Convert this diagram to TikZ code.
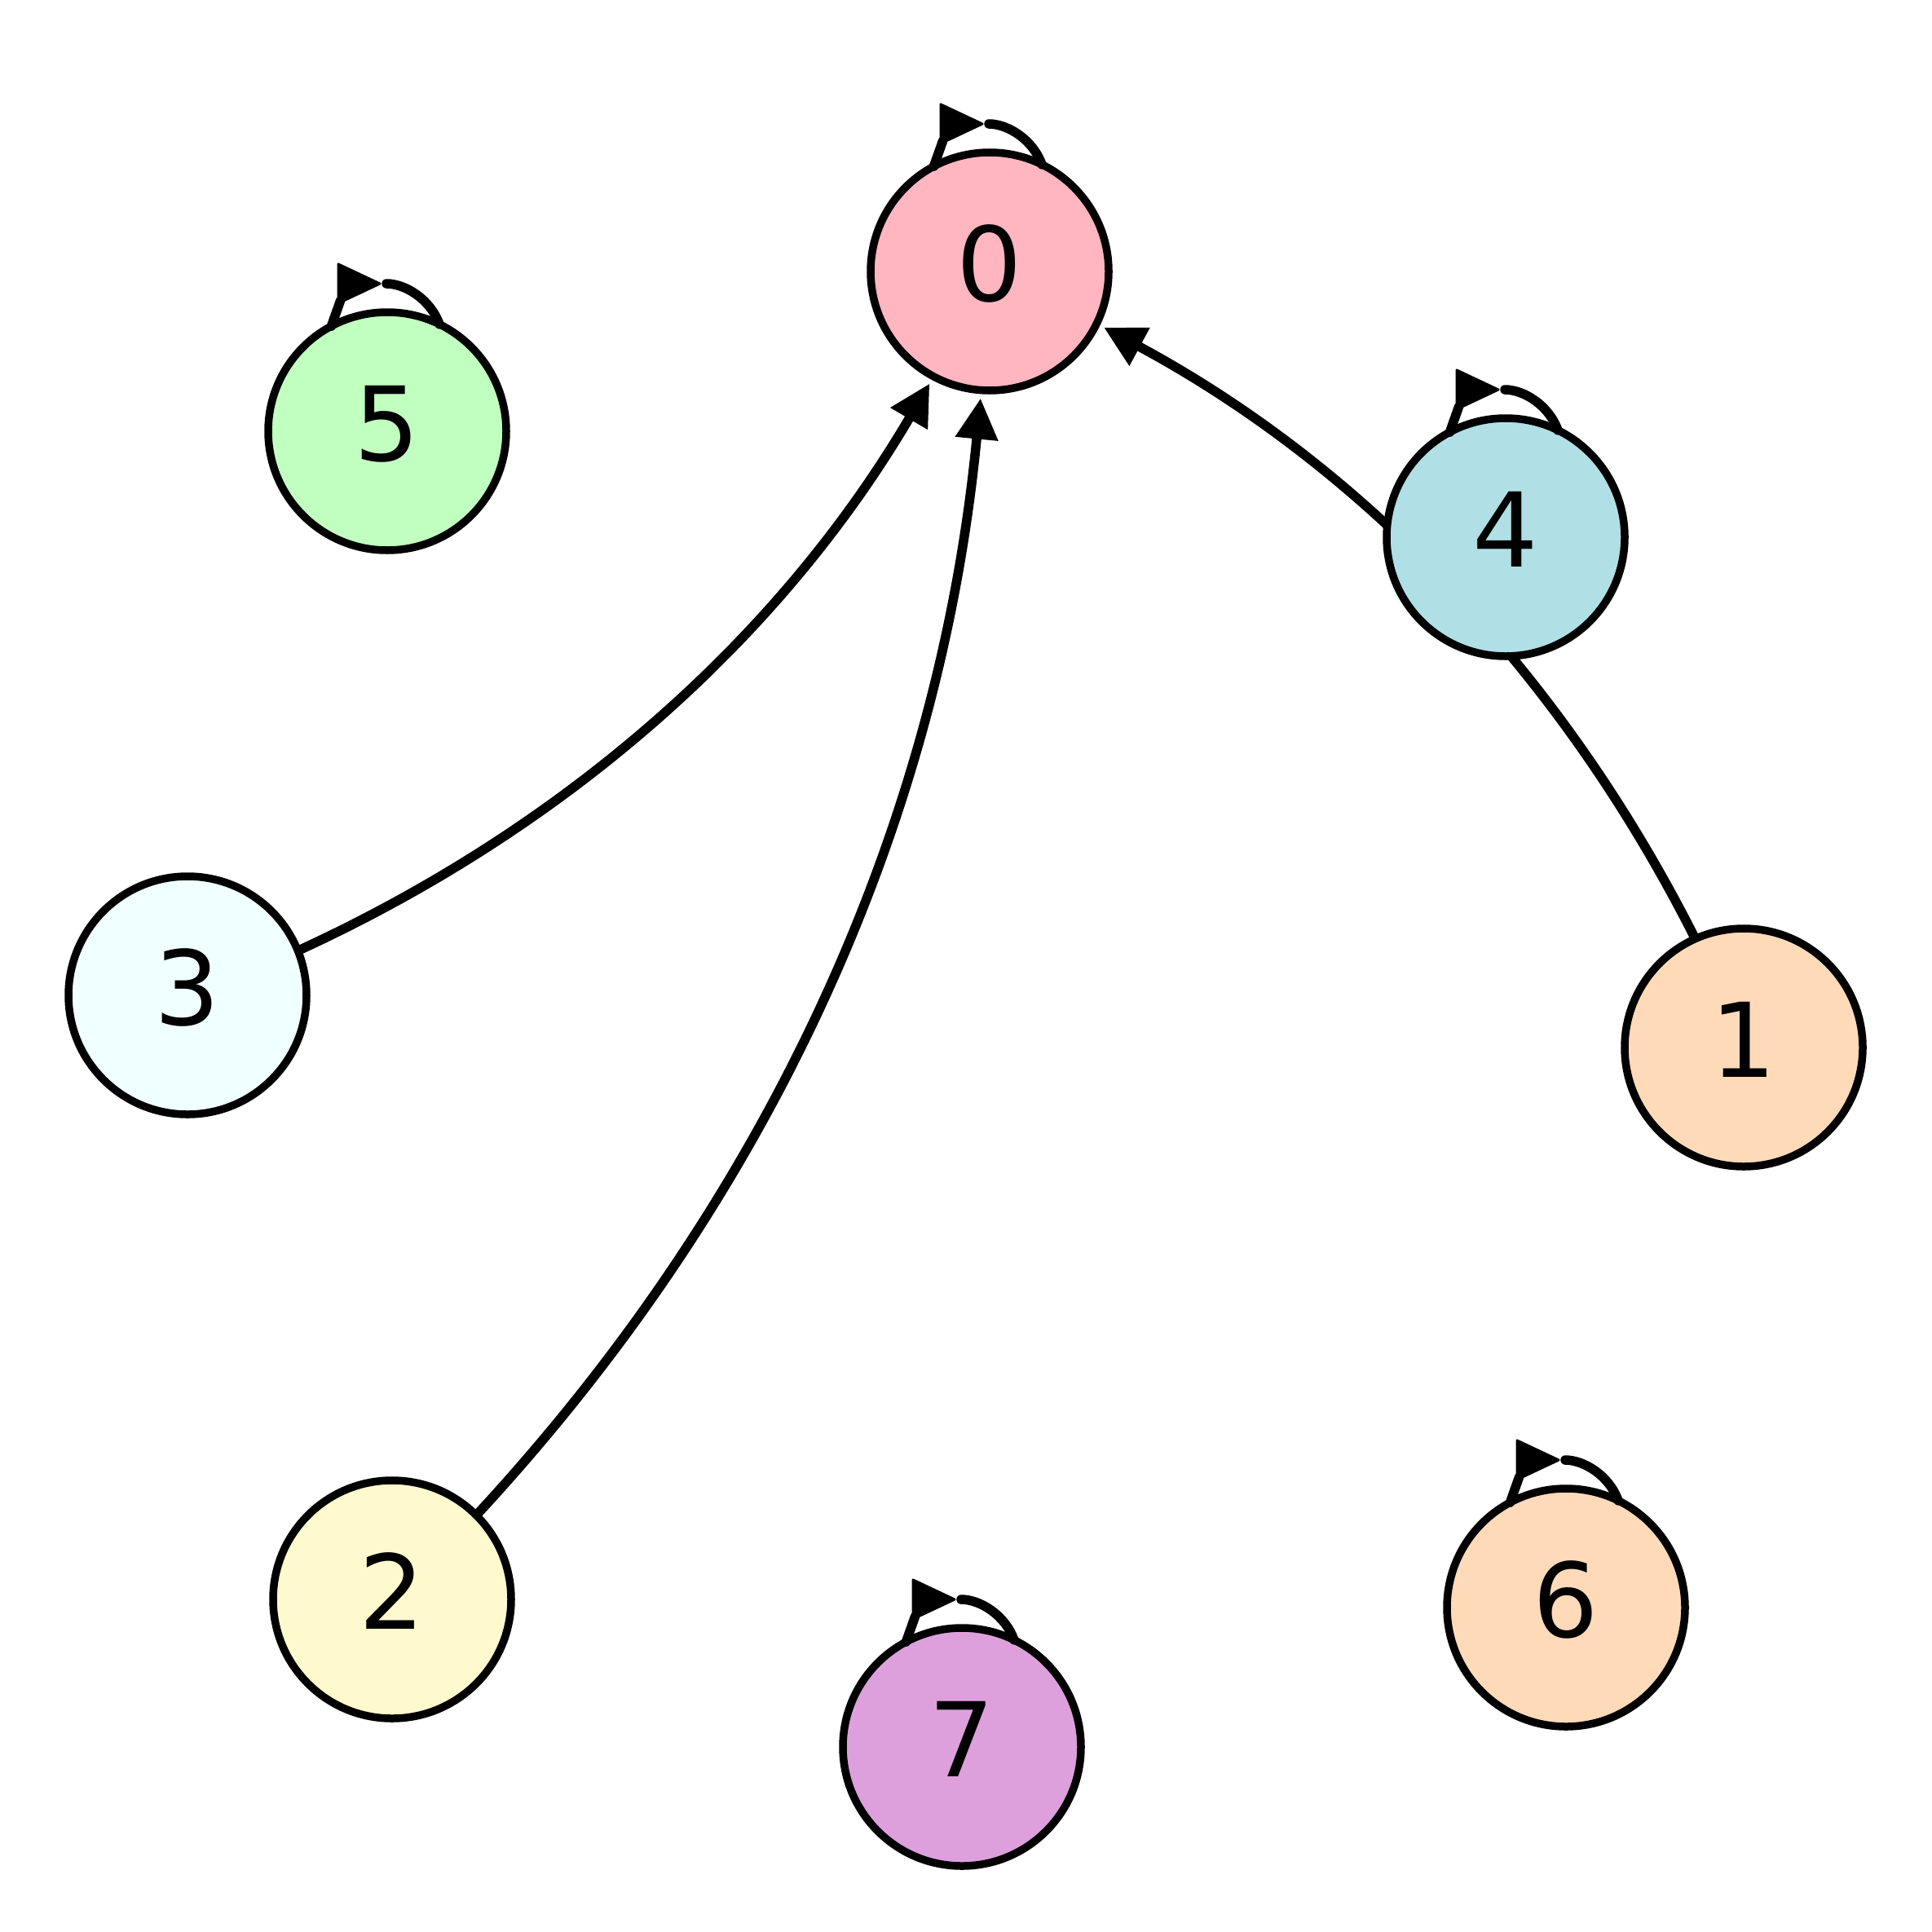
\documentclass[tikz,border=0pt]{standalone}
\usepackage{fontspec}
\setmainfont{DejaVu Sans}
\usetikzlibrary{arrows.meta,calc}
\pgfdeclarelayer{bgfill}
\pgfdeclarelayer{edges}
\pgfsetlayers{bgfill,edges,main}
\definecolor{c0}{HTML}{FFB6C1}
\definecolor{c5}{HTML}{C1FFC1}
\definecolor{c4}{HTML}{B0E0E6}
\definecolor{c3}{HTML}{F0FFFF}
\definecolor{c1}{HTML}{FFDAB9}
\definecolor{c2}{HTML}{FFFACD}
\definecolor{c7}{HTML}{DDA0DD}
\definecolor{c6}{HTML}{FFDAB9}
\newcommand\selfloop[1]{%
  \draw[edge] (#1.118) -- ($(#1)+(-0.575,1.60)$);
  \filldraw[line width=0.03cm, line join=round] ($(#1)+(-0.60,2.05)$) -- ($(#1)+(-0.09,1.81)$) -- ($(#1)+(-0.60,1.57)$) -- cycle;
  \draw[edge] ($(#1)+(-0.01,1.81)$) .. controls ($(#1)+(0.22,1.81)$) and ($(#1)+(0.53,1.62)$) .. (#1.64);}
\begin{document}
\begin{tikzpicture}[
  vert/.style={circle, draw=black, line width=0.095cm, minimum size=2.92cm, inner sep=0pt, outer sep=0pt,
    text height=0.92cm, text depth=0.2cm, font=\fontsize{36}{36}\selectfont},
  edge/.style={line width=0.115cm, line cap=round, draw=black},
  arr/.style={-{Triangle[length=0.50cm,width=0.50cm]}, shorten >=0.1cm},
]
\begin{pgfonlayer}{bgfill}
\fill[white] (0,0) rectangle (23.7,-23.7);
\end{pgfonlayer}
\useasboundingbox (0,0) rectangle (23.7,-23.7);
\node[vert, fill=c0] (n0) at (12.14,-3.33) {0};
\node[vert, fill=c5] (n5) at (4.75,-5.29) {5};
\node[vert, fill=c4] (n4) at (18.47,-6.59) {4};
\node[vert, fill=c3] (n3) at (2.30,-12.21) {3};
\node[vert, fill=c1] (n1) at (21.39,-12.85) {1};
\node[vert, fill=c2] (n2) at (4.81,-19.62) {2};
\node[vert, fill=c7] (n7) at (11.80,-21.43) {7};
\node[vert, fill=c6] (n6) at (19.21,-19.72) {6};
\begin{pgfonlayer}{edges}
\draw[edge, arr] (n3.22.4) .. controls (6.994,-10.131) and (9.592,-7.787) .. (n0.-118.2);
\draw[edge, arr] (n2.45.5) .. controls (9.459,-14.682) and (11.528,-10.085) .. (n0.-94);
\draw[edge, arr] (n1.114.4) .. controls (19.138,-8.228) and (16.696,-5.715) .. (n0.-26.1);
\end{pgfonlayer}
\selfloop{n0}
\selfloop{n5}
\selfloop{n4}
\selfloop{n6}
\selfloop{n7}
\end{tikzpicture}
\end{document}
